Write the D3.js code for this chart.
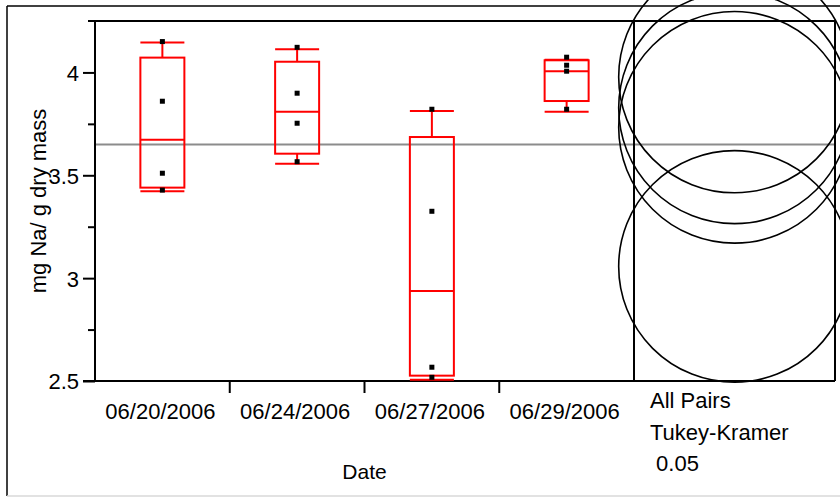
<!DOCTYPE html>
<html>
<head>
<meta charset="utf-8">
<script src="https://cdn.jsdelivr.net/npm/d3@7"></script>
<style>
  html, body { margin: 0; padding: 0; background: #fff; }
  svg { display: block; }
  text { font-family: "Liberation Sans", Arial, sans-serif; fill: #000; }
</style>
</head>
<body>
<svg id="chart" width="840" height="497"></svg>
<script>
// ---- data ----
const dates = ["06/20/2006", "06/24/2006", "06/27/2006", "06/29/2006"];
const points = [
  [4.150, 3.860, 3.510, 3.428],
  [4.122, 3.899, 3.753, 3.566],
  [3.821, 3.325, 2.567, 2.518],
  [4.074, 4.035, 4.006, 3.821]
];
const q1 =       [3.440, 3.605, 2.526, 3.861];
const medians =  [3.673, 3.809, 2.938, 4.006];
const q3 =       [4.072, 4.052, 3.686, 4.059];
const whiskerLo = [3.422, 3.556, 2.506, 3.809];
const whiskerHi = [4.145, 4.113, 3.812, 4.062];
const grandMean = 3.65;
const circleMeans = [3.733, 3.828, 3.057, 3.978];
const circleRadius = 0.563;   // in data units
const yTicks = [2.5, 3, 3.5, 4];
const yMinorTicks = [2.75, 3.25, 3.75];
const panelLabels = ["All Pairs", "Tukey-Kramer", " 0.05"];

(function () {
// ---- layout ----
const svg = d3.select("#chart");
const pLeft = 95, pRight = 634, pTop = 21, pBottom = 381, panelRight = 835;
const fs = "22px";

const y = d3.scaleLinear().domain([2.5, 4.25]).range([pBottom, pTop]);
const x = d3.scaleBand().domain(dates).range([pLeft, pRight]);
const halfBox = 22;
const red = "#ff0000";

// outer frame
svg.append("line").attr("x1", 7).attr("x2", 840).attr("y1", 6).attr("y2", 6)
  .attr("stroke", "#000").attr("stroke-width", 1.5);
svg.append("line").attr("x1", 7).attr("x2", 7).attr("y1", 6).attr("y2", 496)
  .attr("stroke", "#000").attr("stroke-width", 1.5);
svg.append("line").attr("x1", 7).attr("x2", 840).attr("y1", 496).attr("y2", 496)
  .attr("stroke", "#d8d8d8").attr("stroke-width", 1.5);

// grand mean line
svg.append("line").attr("x1", pLeft).attr("x2", panelRight)
  .attr("y1", y(grandMean)).attr("y2", y(grandMean))
  .attr("stroke", "#8c8c8c").attr("stroke-width", 2);

// y axis
const yAxis = d3.axisLeft(y).tickValues(yTicks).tickSize(12).tickPadding(4)
  .tickFormat(d => d3.format("")(d));
const gy = svg.append("g").attr("transform", `translate(${pLeft},0)`).call(yAxis);
gy.select(".domain").remove();
gy.selectAll(".tick line").attr("stroke", "#000").attr("stroke-width", 2);
gy.selectAll(".tick text").style("font-size", fs)
  .style("font-family", "'Liberation Sans', Arial, sans-serif").attr("dy", "0.36em");
const yMinor = d3.axisLeft(y).tickValues(yMinorTicks).tickSize(7).tickFormat("");
const gyMinor = svg.append("g").attr("transform", `translate(${pLeft},0)`).call(yMinor);
gyMinor.select(".domain").remove();
gyMinor.selectAll(".tick line").attr("stroke", "#000").attr("stroke-width", 2);

// axis frame lines
svg.append("line").attr("x1", pLeft).attr("x2", pLeft).attr("y1", pTop).attr("y2", pBottom)
  .attr("stroke", "#000").attr("stroke-width", 2);
svg.append("line").attr("x1", pLeft - 7).attr("x2", panelRight).attr("y1", pTop).attr("y2", pTop)
  .attr("stroke", "#000").attr("stroke-width", 2);
svg.append("line").attr("x1", pLeft - 12).attr("x2", panelRight).attr("y1", pBottom).attr("y2", pBottom)
  .attr("stroke", "#000").attr("stroke-width", 2);

// x axis ticks (between categories) and labels
const xAxis = d3.axisBottom(x).tickSize(0).tickPadding(0);
const gx = svg.append("g").attr("transform", `translate(-2,${pBottom})`).call(xAxis);
gx.select(".domain").remove();
gx.selectAll(".tick text").style("font-size", fs)
  .style("font-family", "'Liberation Sans', Arial, sans-serif")
  .attr("y", 38).attr("dy", "0");
svg.append("g").selectAll("line").data(dates.slice(1)).join("line")
  .attr("x1", d => x(d)).attr("x2", d => x(d))
  .attr("y1", pBottom).attr("y2", pBottom + 12)
  .attr("stroke", "#000").attr("stroke-width", 2);

// axis titles
svg.append("text").attr("x", (pLeft + pRight) / 2).attr("y", 479)
  .attr("text-anchor", "middle").style("font-size", "21px").text("Date");
svg.append("text")
  .attr("transform", `translate(46,${(pTop + pBottom) / 2}) rotate(-90)`)
  .attr("text-anchor", "middle").style("font-size", fs).text("mg Na/ g dry mass");

// box plots
const boxes = svg.append("g");
dates.forEach((d, i) => {
  const cx = x(d) + x.bandwidth() / 2;
  const g = boxes.append("g").attr("stroke", red).attr("stroke-width", 2).attr("fill", "none");
  g.append("rect").attr("x", cx - halfBox).attr("width", 2 * halfBox)
    .attr("y", y(q3[i])).attr("height", y(q1[i]) - y(q3[i]));
  g.append("line").attr("x1", cx - halfBox).attr("x2", cx + halfBox)
    .attr("y1", y(medians[i])).attr("y2", y(medians[i]));
  g.append("line").attr("x1", cx).attr("x2", cx).attr("y1", y(q3[i])).attr("y2", y(whiskerHi[i]));
  g.append("line").attr("x1", cx).attr("x2", cx).attr("y1", y(q1[i])).attr("y2", y(whiskerLo[i]));
  g.append("line").attr("x1", cx - halfBox).attr("x2", cx + halfBox)
    .attr("y1", y(whiskerHi[i])).attr("y2", y(whiskerHi[i]));
  g.append("line").attr("x1", cx - halfBox).attr("x2", cx + halfBox)
    .attr("y1", y(whiskerLo[i])).attr("y2", y(whiskerLo[i]));
  boxes.append("g").selectAll("rect").data(points[i]).join("rect")
    .attr("x", cx - 2.5).attr("y", v => y(v) - 2.5)
    .attr("width", 5).attr("height", 5).attr("fill", "#000");
});

// comparison circles panel
svg.append("line").attr("x1", pRight).attr("x2", pRight).attr("y1", pTop).attr("y2", pBottom)
  .attr("stroke", "#000").attr("stroke-width", 2);
svg.append("line").attr("x1", panelRight).attr("x2", panelRight).attr("y1", pTop).attr("y2", pBottom)
  .attr("stroke", "#000").attr("stroke-width", 2);
const pcx = (pRight + panelRight) / 2;
const rPx = y(2.5) - y(2.5 + circleRadius);
svg.append("g").selectAll("circle").data(circleMeans).join("circle")
  .attr("cx", pcx).attr("cy", d => y(d)).attr("r", rPx)
  .attr("fill", "none").attr("stroke", "#000").attr("stroke-width", 1.6);

svg.append("g").selectAll("text").data(panelLabels).join("text")
  .attr("x", 650).attr("y", (d, i) => 408 + i * 31.5)
  .style("font-size", fs).style("white-space", "pre").attr("xml:space", "preserve")
  .text(d => d);
})();
</script>
</body>
</html>
